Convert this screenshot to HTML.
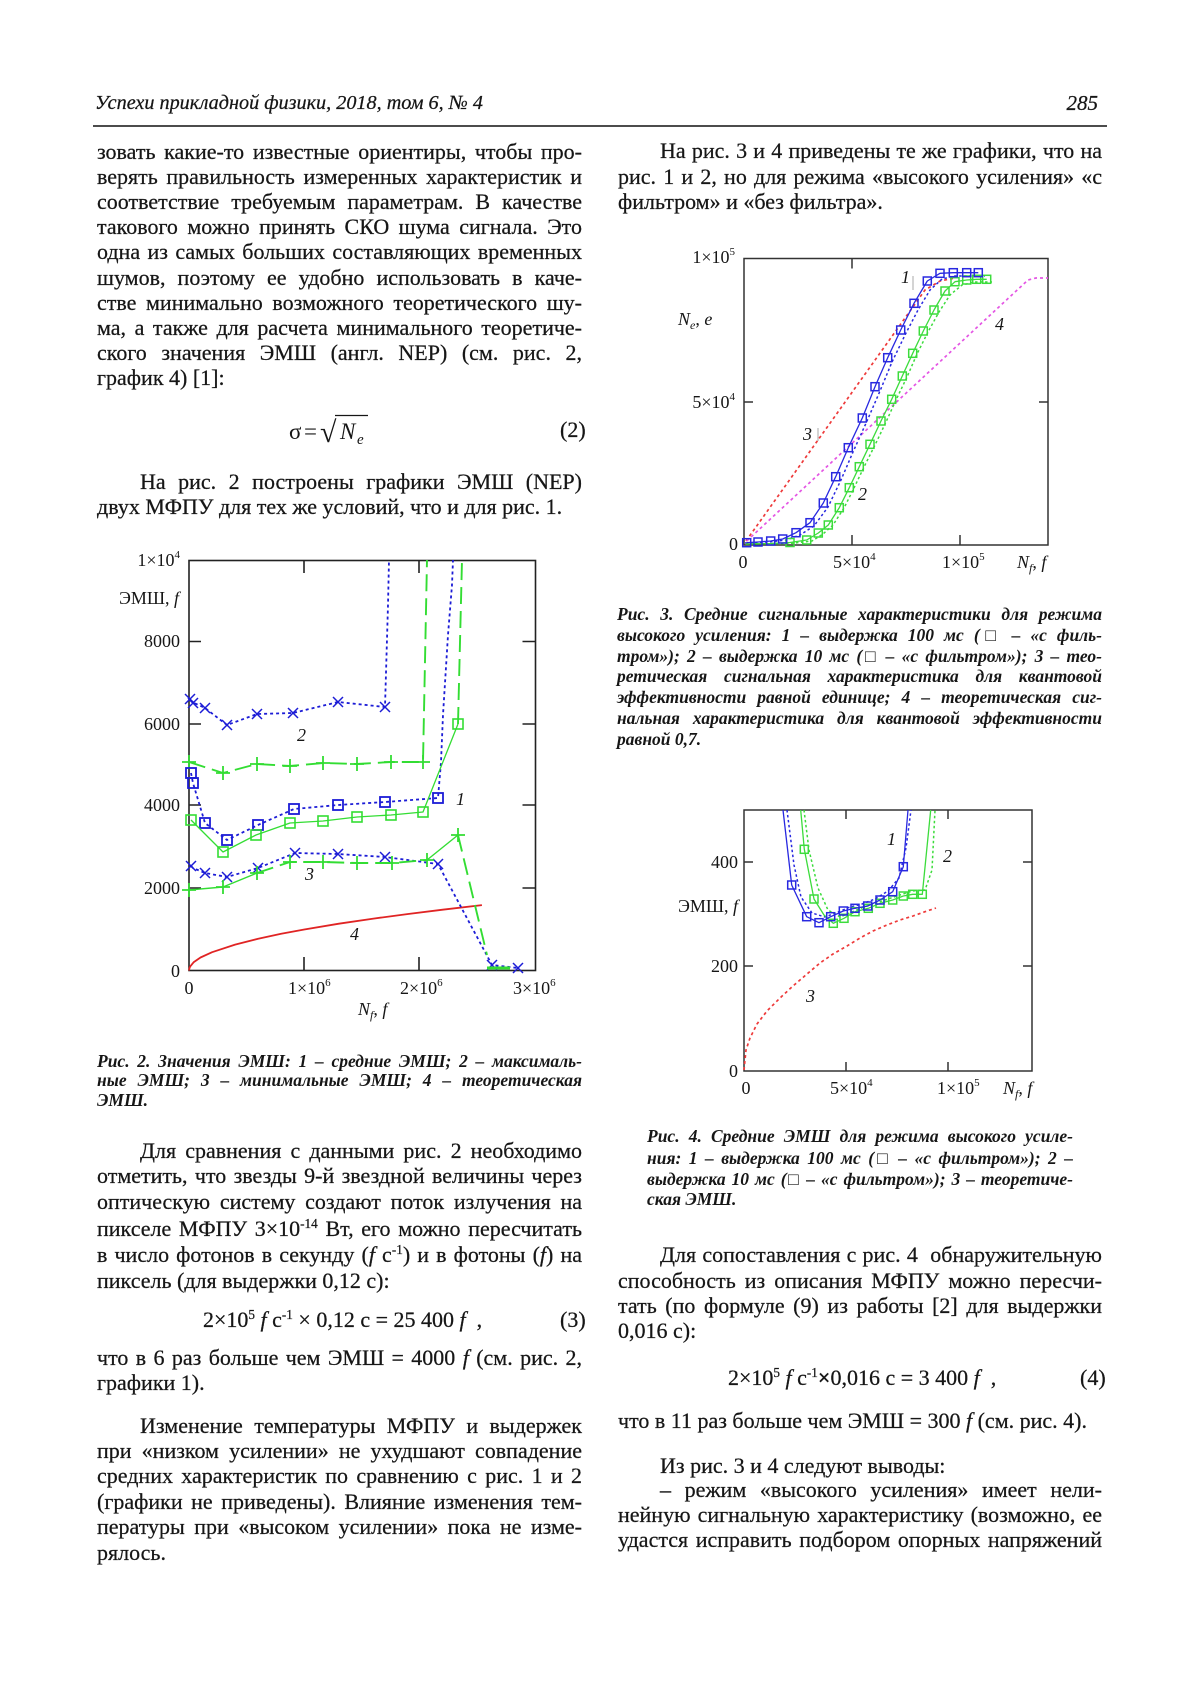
<!DOCTYPE html>
<html><head><meta charset="utf-8">
<style>
body{margin:0;width:1200px;height:1698px;position:relative;background:#fff;font-family:"Liberation Serif","DejaVu Serif",serif;color:#161616;overflow:hidden}
.t{position:absolute;font-size:22px;line-height:24px;height:24px;white-space:nowrap;-webkit-text-stroke:0.25px #161616}
.j{text-align:justify;text-align-last:justify;white-space:normal}
.c{position:absolute;font-size:17.5px;line-height:20px;height:20px;font-weight:bold;font-style:italic;white-space:nowrap}
.sp{font-size:0.6em;position:relative;top:-0.6em}
.L{left:97px;width:485px}
.LI{left:140px;width:442px}
.R{left:618px;width:484px}
.RI{left:660px;width:442px}
.C2{left:97px;width:485px}
.C3{left:617px;width:485px}
.C4{left:647px;width:426px}
</style></head><body>

<div class="t" style="left:95px;top:91px;font-size:20.2px;font-style:italic">Успехи прикладной физики, 2018, том 6, № 4</div>
<div class="t" style="right:102px;top:91px;font-size:21px;font-style:italic">285</div>

<!-- left column top -->
<div class="t j L" style="top:139.5px">зовать какие-то известные ориентиры, чтобы про-</div>
<div class="t j L" style="top:164.7px">верять правильность измеренных характеристик и</div>
<div class="t j L" style="top:189.9px">соответствие требуемым параметрам. В качестве</div>
<div class="t j L" style="top:215.1px">такового можно принять СКО шума сигнала. Это</div>
<div class="t j L" style="top:240.3px">одна из самых больших составляющих временных</div>
<div class="t j L" style="top:265.5px">шумов, поэтому ее удобно использовать в каче-</div>
<div class="t j L" style="top:290.7px">стве минимально возможного теоретического шу-</div>
<div class="t j L" style="top:315.9px">ма, а также для расчета минимального теоретиче-</div>
<div class="t j L" style="top:341.1px">ского значения ЭМШ (англ. NEP) (см. рис. 2,</div>
<div class="t L" style="top:366.3px">график 4) [1]:</div>

<div class="t" style="left:560px;top:418px">(2)</div>

<div class="t j LI" style="top:470px">На рис. 2 построены графики ЭМШ (NEP)</div>
<div class="t L" style="top:495px">двух МФПУ для тех же условий, что и для рис. 1.</div>

<!-- caption 2 -->
<div class="c j C2" style="top:1051px">Рис. 2. Значения ЭМШ: 1 – средние ЭМШ; 2 – максималь-</div>
<div class="c j C2" style="top:1070px">ные ЭМШ; 3 – минимальные ЭМШ; 4 – теоретическая</div>
<div class="c C2" style="top:1090px">ЭМШ.</div>

<!-- left column bottom -->
<div class="t j LI" style="top:1138.5px">Для сравнения с данными рис. 2 необходимо</div>
<div class="t j L" style="top:1163.5px">отметить, что звезды 9-й звездной величины через</div>
<div class="t j L" style="top:1189.5px">оптическую систему создают поток излучения на</div>
<div class="t j L" style="top:1217px">пикселе МФПУ 3×10<span class="sp">-14</span> Вт, его можно пересчитать</div>
<div class="t j L" style="top:1242.5px">в число фотонов в секунду (<i>f</i> с<span class="sp">-1</span>) и в фотоны (<i>f</i>) на</div>
<div class="t L" style="top:1268.5px">пиксель (для выдержки 0,12 с):</div>
<div class="t" style="left:203px;top:1307.5px">2×10<span class="sp">5</span> <i>f</i> с<span class="sp">-1</span> × 0,12 с = 25 400 <i>f</i>&nbsp; ,</div>
<div class="t" style="left:560px;top:1307.5px">(3)</div>
<div class="t j L" style="top:1346px">что в 6 раз больше чем ЭМШ = 4000 <i>f</i> (см. рис. 2,</div>
<div class="t L" style="top:1371px">графики 1).</div>
<div class="t j LI" style="top:1414px">Изменение температуры МФПУ и выдержек</div>
<div class="t j L" style="top:1439px">при «низком усилении» не ухудшают совпадение</div>
<div class="t j L" style="top:1464px">средних характеристик по сравнению с рис. 1 и 2</div>
<div class="t j L" style="top:1489.5px">(графики не приведены). Влияние изменения тем-</div>
<div class="t j L" style="top:1515px">пературы при «высоком усилении» пока не изме-</div>
<div class="t L" style="top:1540.5px">рялось.</div>

<!-- right column top -->
<div class="t j RI" style="top:139px">На рис. 3 и 4 приведены те же графики, что на</div>
<div class="t j R" style="top:164.5px">рис. 1 и 2, но для режима «высокого усиления» «с</div>
<div class="t R" style="top:190px">фильтром» и «без фильтра».</div>

<!-- caption 3 -->
<div class="c j C3" style="top:604px">Рис. 3. Средние сигнальные характеристики для режима</div>
<div class="c j C3" style="top:625px">высокого усиления: 1 – выдержка 100 мс (□ – «с филь-</div>
<div class="c j C3" style="top:646px">тром»); 2 – выдержка 10 мс (□ – «с фильтром»); 3 – тео-</div>
<div class="c j C3" style="top:666px">ретическая сигнальная характеристика для квантовой</div>
<div class="c j C3" style="top:687px">эффективности равной единице; 4 – теоретическая сиг-</div>
<div class="c j C3" style="top:708px">нальная характеристика для квантовой эффективности</div>
<div class="c C3" style="top:729px">равной 0,7.</div>

<!-- caption 4 -->
<div class="c j C4" style="top:1126px">Рис. 4. Средние ЭМШ для режима высокого усиле-</div>
<div class="c j C4" style="top:1148px">ния: 1 – выдержка 100 мс (□ – «с фильтром»); 2 –</div>
<div class="c j C4" style="top:1169px">выдержка 10 мс (□ – «с фильтром»); 3 – теоретиче-</div>
<div class="c C4" style="top:1189px">ская ЭМШ.</div>

<!-- right column bottom -->
<div class="t j RI" style="top:1243px">Для сопоставления с рис. 4&nbsp; обнаружительную</div>
<div class="t j R" style="top:1269px">способность из описания МФПУ можно пересчи-</div>
<div class="t j R" style="top:1294px">тать (по формуле (9) из работы [2] для выдержки</div>
<div class="t R" style="top:1319px">0,016 с):</div>
<div class="t" style="left:728px;top:1366px">2×10<span class="sp">5</span> <i>f</i> с<span class="sp">-1</span><b>×</b>0,016 с = 3 400 <i>f</i>&nbsp; ,</div>
<div class="t" style="left:1080px;top:1366px">(4)</div>
<div class="t R" style="top:1409px">что в 11 раз больше чем ЭМШ = 300 <i>f</i> (см. рис. 4).</div>
<div class="t RI" style="top:1454px">Из рис. 3 и 4 следуют выводы:</div>
<div class="t j RI" style="top:1478px">– режим «высокого усиления» имеет нели-</div>
<div class="t j R" style="top:1503px">нейную сигнальную характеристику (возможно, ее</div>
<div class="t j R" style="top:1528px">удастся исправить подбором опорных напряжений</div>

<svg width="1200" height="1698" style="position:absolute;left:0;top:0" xmlns="http://www.w3.org/2000/svg">
<defs>
<marker id="sqB2" markerUnits="userSpaceOnUse" markerWidth="14" markerHeight="14" refX="7" refY="7" overflow="visible"><rect x="2" y="2" width="10" height="10" fill="none" stroke="#1c1cd6" stroke-width="1.8"/></marker>
<marker id="sqG2" markerUnits="userSpaceOnUse" markerWidth="14" markerHeight="14" refX="7" refY="7" overflow="visible"><rect x="2" y="2" width="10" height="10" fill="none" stroke="#33dd33" stroke-width="1.6"/></marker>
<marker id="xB2" markerUnits="userSpaceOnUse" markerWidth="14" markerHeight="14" refX="7" refY="7" overflow="visible"><path d="M2,2 L12,12 M12,2 L2,12" stroke="#1c1cd6" stroke-width="1.5"/></marker>
<marker id="pG2" markerUnits="userSpaceOnUse" markerWidth="14" markerHeight="14" refX="7" refY="7" overflow="visible"><path d="M7,0 V14 M0,7 H14" stroke="#33dd33" stroke-width="1.8"/></marker>
<marker id="sqB3" markerUnits="userSpaceOnUse" markerWidth="12" markerHeight="12" refX="6" refY="6" overflow="visible"><rect x="2" y="2" width="8" height="8" fill="none" stroke="#2828e0" stroke-width="1.5"/></marker>
<marker id="sqG3" markerUnits="userSpaceOnUse" markerWidth="12" markerHeight="12" refX="6" refY="6" overflow="visible"><rect x="2" y="2" width="8" height="8" fill="none" stroke="#3cdc3c" stroke-width="1.5"/></marker>
</defs>

<line x1="93" y1="126" x2="1107" y2="126" stroke="#111" stroke-width="1.6"/>

<!-- formula 2 -->
<g font-family="Liberation Serif, serif" font-size="23" fill="#161616">
<text x="289" y="439">σ</text>
<text x="304" y="439">=</text>
<text x="320" y="442" font-size="30">√</text>
<line x1="335" y1="415.5" x2="368" y2="415.5" stroke="#161616" stroke-width="1.2"/>
<text x="340" y="439" font-style="italic">N</text>
<text x="357" y="444" font-style="italic" font-size="15">e</text>
</g>

<!-- ============ CHART 2 ============ -->
<g fill="none" stroke="#222" stroke-width="1.6">
<rect x="189" y="560.5" width="346.5" height="410"/>
<path d="M304,560 v13 M419,560 v13 M304,970 v-13 M419,970 v-13 M189,641.5 h12 M189,724 h12 M189,805 h12 M189,888 h12 M535.5,641.5 h-13 M535.5,724 h-13 M535.5,805 h-13 M535.5,888 h-13"/>
</g>
<g fill="none" stroke-linejoin="round">
<polyline stroke="#e02424" stroke-width="1.8" points="189,970.5 189.5,968 190.2,966.4 193.6,962.3 200.5,957.5 212.1,952.2 235.1,944.6 258.2,938.7 281.2,933.8 304.3,929.5 338.9,923.7 373.5,918.6 408.1,914 442.7,909.7 481.9,905.1"/>
<polyline stroke="#1c1cd6" stroke-width="1.8" stroke-dasharray="3 3" points="190,700 192,702 205,708 227,725 257,714 293,713 338,702 385,707 388,605 389,560"/>
<polyline stroke="none" marker-start="url(#xB2)" marker-mid="url(#xB2)" marker-end="url(#xB2)" points="190,699 193,703 205,708 227,725 257,714 293,713 338,702 385,707"/>
<polyline stroke="#33dd33" stroke-width="1.9" stroke-dasharray="17 7" points="189,762 223,773 257,764 290,766 323,763 357,764 391,762 423,762 427,560"/>
<polyline stroke="none" marker-start="url(#pG2)" marker-mid="url(#pG2)" marker-end="url(#pG2)" points="189,762 223,773 257,764 290,766 323,763 357,764 391,762 423,762"/>
<polyline stroke="#1c1cd6" stroke-width="1.8" stroke-dasharray="3 3" points="191,773 193,783 205,823 227,840 258,825 294,809 338,805 385,802 438,798 441,762 443,715 448,635 452,585 453,560"/>
<polyline stroke="none" marker-start="url(#sqB2)" marker-mid="url(#sqB2)" marker-end="url(#sqB2)" points="191,773 193,783 205,823 227,840 258,825 294,809 338,805 385,802 438,798"/>
<polyline stroke="#33dd33" stroke-width="1.3" points="191,820 223,852 256,835 290,823 323,821 357,817 391,815 423,812 458,724"/>
<polyline stroke="#33dd33" stroke-width="1.9" stroke-dasharray="17 7" points="458,724 462,560"/>
<polyline stroke="none" marker-start="url(#sqG2)" marker-mid="url(#sqG2)" marker-end="url(#sqG2)" points="191,820 223,852 256,835 290,823 323,821 357,817 391,815 423,812 458,724"/>
<polyline stroke="#1c1cd6" stroke-width="1.8" stroke-dasharray="3 3" points="191,866 193,868 205,873 227,877 258,868 295,853 338,854 385,857 438,864 492,965 518,968"/>
<polyline stroke="none" marker-start="url(#xB2)" marker-mid="url(#xB2)" marker-end="url(#xB2)" points="191,866 205,873 227,877 258,868 295,853 338,854 385,857 438,864 492,965 518,968"/>
<polyline stroke="#33dd33" stroke-width="1.4" points="189,890 223,887 257,873"/>
<polyline stroke="#33dd33" stroke-width="1.9" stroke-dasharray="17 7" points="257,873 290,862 323,862 357,863 392,863 427,860"/>
<polyline stroke="#33dd33" stroke-width="1.4" points="427,860 458,835"/>
<polyline stroke="#33dd33" stroke-width="1.9" stroke-dasharray="17 7" points="458,835 487,955"/>
<polyline stroke="#33dd33" stroke-width="3" points="487,968 510,968"/>
<polyline stroke="none" marker-start="url(#pG2)" marker-mid="url(#pG2)" marker-end="url(#pG2)" points="189,890 223,887 257,873 290,862 323,862 357,863 392,863 427,860 458,835"/>
</g>
<g font-family="Liberation Serif, serif" font-size="18" fill="#161616">
<text x="180" y="566" text-anchor="end">1×10<tspan font-size="11" dy="-8">4</tspan></text>
<text x="179" y="604" text-anchor="end">ЭМШ, <tspan font-style="italic">f</tspan></text>
<text x="180" y="647" text-anchor="end">8000</text>
<text x="180" y="730" text-anchor="end">6000</text>
<text x="180" y="811" text-anchor="end">4000</text>
<text x="180" y="894" text-anchor="end">2000</text>
<text x="180" y="977" text-anchor="end">0</text>
<text x="189" y="994" text-anchor="middle">0</text>
<text x="288" y="994">1×10<tspan font-size="11" dy="-8">6</tspan></text>
<text x="400" y="994">2×10<tspan font-size="11" dy="-8">6</tspan></text>
<text x="513" y="994">3×10<tspan font-size="11" dy="-8">6</tspan></text>
<text x="358" y="1015" font-style="italic">N<tspan font-size="12" dy="4">f</tspan><tspan dy="-4" font-style="normal">, </tspan>f</text>
<g font-style="italic">
<text x="297" y="741">2</text>
<text x="456" y="805">1</text>
<text x="305" y="880">3</text>
<text x="350" y="940">4</text>
</g>
</g>

<!-- ============ CHART 3 ============ -->
<g fill="none" stroke="#333" stroke-width="1.5">
<rect x="744" y="258.5" width="304" height="286.5"/>
<path d="M852,258.5 v10 M852,545 v-10 M960,545 v-10 M744,402 h9 M1048,402 h-9"/>
</g>
<line x1="913" y1="276" x2="913" y2="290" stroke="#aaa" stroke-width="1"/>
<line x1="818" y1="428" x2="818" y2="441" stroke="#aaa" stroke-width="1"/>
<g fill="none" stroke-linejoin="round">
<polyline stroke="#ee3a3a" stroke-width="1.7" stroke-dasharray="3 3" points="746,541 925,290 940,281 955,278"/>
<polyline stroke="#e455e4" stroke-width="1.7" stroke-dasharray="3 3" points="746.7,541 1028,280 1036,278 1048,278"/>
<polyline stroke="#2828e0" stroke-width="1.5" stroke-dasharray="2.5 2.5" points="745,543 760,542.5 773,541.5 786,540 800,535 814,526 828,507 841,480 853,452 867,421 880,391 892,362 905,335 918,310 930,290 942,279 955,276 970,276 985,276"/>
<polyline stroke="#3cdc3c" stroke-width="1.5" stroke-dasharray="2.5 2.5" points="746,544 790,543.5 812,541 823,534 833,525 844,508 854,488 864,467 875,445 886,422 896,400 907,377 917,354 928,332 939,312 950,295 962,285 975,282 992,282"/>
<polyline stroke="#3cdc3c" stroke-width="1.3" points="746,544 770,543.5 790,542.5 806.7,540 818.3,533 828.3,525 839.3,507.7 849.3,487.7 859.3,466.7 870,444.3 881,421 891.7,399.3 902.3,376 912.7,353.3 923.3,331 934,310 945,291 955,281.7 966.7,280 976.7,279.3 986.7,279.3"/>
<polyline stroke="none" marker-start="url(#sqG3)" marker-mid="url(#sqG3)" marker-end="url(#sqG3)" points="790,542.5 806.7,540 818.3,533 828.3,525 839.3,507.7 849.3,487.7 859.3,466.7 870,444.3 881,421 891.7,399.3 902.3,376 912.7,353.3 923.3,331 934,310 945,291 955,281.7 966.7,280 976.7,279.3 986.7,279.3"/>
<polyline stroke="#2828e0" stroke-width="1.3" points="746.7,542.7 758,542 770.7,541 782.7,539 796,532.7 810,522.7 823.3,503 835.7,476.7 848.3,447.7 862.3,418 875,386.7 887.7,357.7 900.7,330 914,303.3 927.3,281 940,273.3 953.3,272.7 966.7,272.7 978.3,272.7"/>
<polyline stroke="none" marker-start="url(#sqB3)" marker-mid="url(#sqB3)" marker-end="url(#sqB3)" points="746.7,542.7 758,542 770.7,541 782.7,539 796,532.7 810,522.7 823.3,503 835.7,476.7 848.3,447.7 862.3,418 875,386.7 887.7,357.7 900.7,330 914,303.3 927.3,281 940,273.3 953.3,272.7 966.7,272.7 978.3,272.7"/>
</g>
<g font-family="Liberation Serif, serif" font-size="18" fill="#161616">
<text x="735" y="263" text-anchor="end">1×10<tspan font-size="11" dy="-8">5</tspan></text>
<text x="735" y="408" text-anchor="end">5×10<tspan font-size="11" dy="-8">4</tspan></text>
<text x="738" y="550" text-anchor="end">0</text>
<text x="678" y="325" font-style="italic">N<tspan font-size="12" dy="4">e</tspan><tspan dy="-4" font-style="normal">, </tspan>e</text>
<text x="743" y="568" text-anchor="middle">0</text>
<text x="833" y="568">5×10<tspan font-size="11" dy="-8">4</tspan></text>
<text x="942" y="568">1×10<tspan font-size="11" dy="-8">5</tspan></text>
<text x="1017" y="568" font-style="italic">N<tspan font-size="12" dy="4">f</tspan><tspan dy="-4" font-style="normal">, </tspan>f</text>
<g font-style="italic">
<text x="901" y="283">1</text>
<text x="803" y="440">3</text>
<text x="858" y="500">2</text>
<text x="995" y="330">4</text>
</g>
</g>

<!-- ============ CHART 4 ============ -->
<g fill="none" stroke="#333" stroke-width="1.5">
<rect x="744" y="810" width="288" height="261"/>
<path d="M846,810 v9 M948,810 v9 M846,1071 v-9 M948,1071 v-9 M744,862 h9 M744,966 h9 M1032,862 h-9 M1032,966 h-9"/>
</g>
<g fill="none" stroke-linejoin="round">
<polyline stroke="#ee3a3a" stroke-width="1.7" stroke-dasharray="3 3" points="744,1070 746,1050 750,1038 757,1024 767,1011 780,998 793,986 807,974 820,963 833,954 847,946 860,938 873,931 887,925 900,920 913,916 927,911 936,908"/>
<polyline stroke="#2828e0" stroke-width="1.5" stroke-dasharray="2.5 2.5" points="787,810 794,865 801,897 812,913 825,917 838,912 850,907 862,904 875,899 888,891 899,878 906,848 911,810"/>
<polyline stroke="#3cdc3c" stroke-width="1.5" stroke-dasharray="2.5 2.5" points="804,810 809,850 818,888 828,910 840,917 852,912 864,907 876,903 888,899 900,895 912,891 925,890 932,870 935,810"/>
<polyline stroke="#3cdc3c" stroke-width="1.3" points="800.7,810 804.3,849.3 814,899 824,915 833.3,923.3 844,918.3 855,911.7 868.3,908.3 880,903.3 892.7,900 903.3,896 912.7,894.3 922.3,894.3 930.7,810"/>
<polyline stroke="none" marker-start="url(#sqG3)" marker-mid="url(#sqG3)" marker-end="url(#sqG3)" points="804.3,849.3 814,899 833.3,923.3 844,918.3 855,911.7 868.3,908.3 880,903.3 892.7,900 903.3,896 912.7,894.3 922.3,894.3"/>
<polyline stroke="#2828e0" stroke-width="1.3" points="783,810 791.7,885 806.7,916.7 819,922.7 830.7,916.7 843.3,911 855,908.3 867.7,906 880,900 892.7,891.7 903.3,866.7 908,810"/>
<polyline stroke="none" marker-start="url(#sqB3)" marker-mid="url(#sqB3)" marker-end="url(#sqB3)" points="791.7,885 806.7,916.7 819,922.7 830.7,916.7 843.3,911 855,908.3 867.7,906 880,900 892.7,891.7 903.3,866.7"/>
</g>
<g font-family="Liberation Serif, serif" font-size="18" fill="#161616">
<text x="738" y="868" text-anchor="end">400</text>
<text x="738" y="972" text-anchor="end">200</text>
<text x="738" y="1077" text-anchor="end">0</text>
<text x="678" y="912">ЭМШ, <tspan font-style="italic">f</tspan></text>
<text x="746" y="1094" text-anchor="middle">0</text>
<text x="830" y="1094">5×10<tspan font-size="11" dy="-8">4</tspan></text>
<text x="937" y="1094">1×10<tspan font-size="11" dy="-8">5</tspan></text>
<text x="1003" y="1094" font-style="italic">N<tspan font-size="12" dy="4">f</tspan><tspan dy="-4" font-style="normal">, </tspan>f</text>
<g font-style="italic">
<text x="887" y="845">1</text>
<text x="943" y="862">2</text>
<text x="806" y="1002">3</text>
</g>
</g>
</svg>
</body></html>
